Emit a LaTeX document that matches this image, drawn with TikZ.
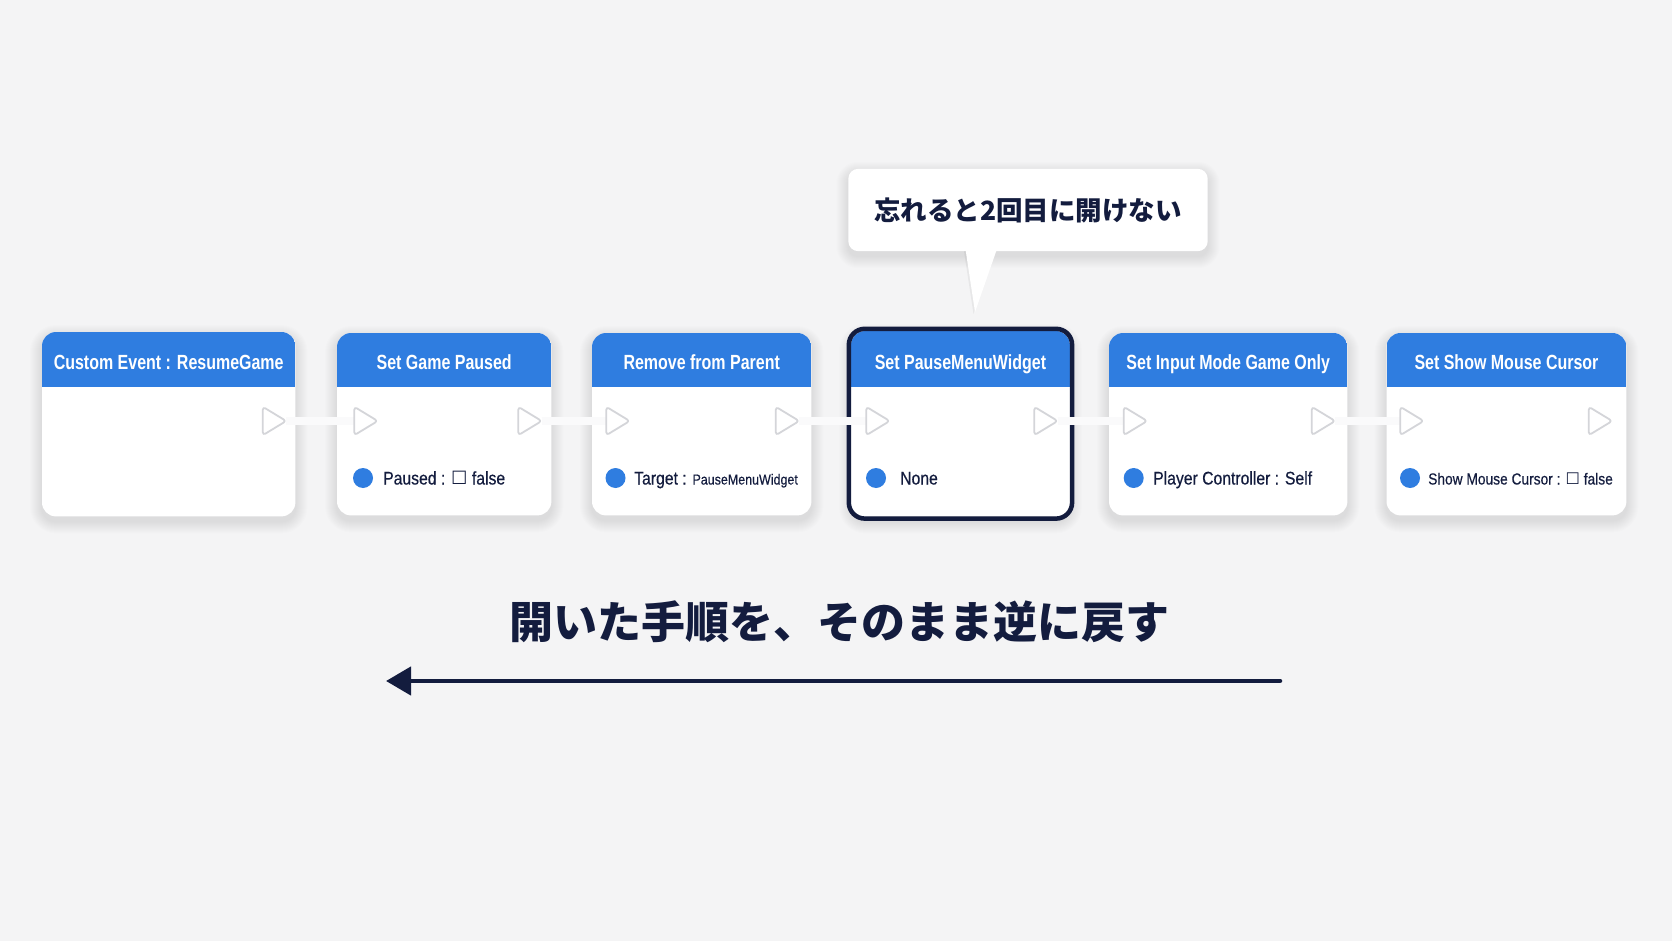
\documentclass[tikz,border=0pt]{standalone}
\usepackage{fontspec}
\setmainfont{Liberation Sans}
\newfontfamily\hfont{Liberation Sans}[FakeStretch=0.78]
\newfontfamily\bfont{Liberation Sans}[FakeStretch=0.86,FakeBold=0.4]
\newfontfamily\dvsym{DejaVu Sans}
\newfontfamily\cjk{Noto Sans CJK JP}
\usetikzlibrary{arrows.meta}
\definecolor{bgc}{HTML}{F4F4F5}
\definecolor{hblue}{HTML}{2F7DE0}
\definecolor{navy}{HTML}{131C3E}
\definecolor{pingray}{HTML}{D4D5D9}
\definecolor{wiregray}{HTML}{FAFAFB}
\tikzset{
 card/.style={rectangle, inner sep=0pt, anchor=north west},
 cardfill/.style={fill=white, rounded corners=14pt},
 shadowlayer/.style={fill=black, opacity=0.009},
 htext/.style={text=white, font=\hfont\bfseries\fontsize{20.5}{24}\selectfont, anchor=base, inner sep=0pt},
 btext/.style={text=navy, font=\bfont\fontsize{18.3}{22}\selectfont, anchor=base west, inner sep=0pt},
 dpin/.style={circle, fill=hblue, minimum size=20pt, inner sep=0pt},
 epin/.style={rectangle, minimum width=23pt, minimum height=28pt, inner sep=0pt},
 epinshape/.style={fill=white, draw=pingray, line width=1.8pt, rounded corners=3pt, line join=round},
 wire/.style={draw=wiregray, line width=8pt},
 callbox/.style={rectangle, inner sep=0pt},
 ctext/.style={text=navy, font=\cjk\bfseries\fontsize{26.5}{30}\selectfont, inner sep=0pt},
 mtext/.style={text=navy, font=\cjk\bfseries\fontsize{44}{50}\selectfont, inner sep=0pt},
 bigarrow/.style={draw=navy, line width=4.5pt, line cap=round, -{Triangle[length=25pt,width=28pt]}},
}
% soft shadow behind a node: #1 node name, #2 corner radius
\newcommand\softshadow[2]{%
 \foreach \r in {1,...,12}{%
  \pgfmathsetmacro\rr{#2+\r}%
  \fill[shadowlayer, rounded corners=\rr pt]
   ([shift={(-\r pt,\r pt-5pt)}]#1.north west) rectangle ([shift={(\r pt,-\r pt-5pt)}]#1.south east);
 }%
}
\newcommand\bpcard[6]{%
 \path node[card, minimum width=#4pt, minimum height=#5pt] (#1) at (#2,#3) {};
 \softshadow{#1}{14}
 \fill[cardfill] (#1.north west) rectangle (#1.south east);
 \begin{scope}
 \clip[rounded corners=14pt] (#1.north west) rectangle (#1.south east);
 \fill[hblue] (#1.north west) rectangle (#1.east |- 0,387);
 \end{scope}
 \node[htext] (#1t) at (#1.north |- 0,369) {#6};
}
\newcommand\execpin[3]{\node[epin] (#1) at (#2,#3) {};}
\newcommand\pintri[1]{\path[epinshape] (#1.north west) -- (#1.east) -- (#1.south west) -- cycle;}
\begin{document}
\begin{tikzpicture}[x=1pt,y=-1pt]
\fill[bgc] (0,0) rectangle (1672,941);
\useasboundingbox (0,0) rectangle (1672,941);

% cards
\bpcard{n1}{42}{332}{253}{184}{Custom Event : ResumeGame}
\bpcard{n2}{337}{333}{214}{182}{Set Game Paused}
\bpcard{n3}{592}{333}{219}{182}{Remove from Parent}
\bpcard{n4}{851}{331}{218.5}{185}{Set PauseMenuWidget}
\bpcard{n5}{1109}{333}{238}{182}{Set Input Mode Game Only}
\bpcard{n6}{1386.5}{333}{239.5}{182}{Set Show Mouse Cursor}
\draw[navy, line width=4.5pt, rounded corners=16pt] ([shift={(-2.2pt,2.2pt)}]n4.north west) rectangle ([shift={(2.2pt,-2.2pt)}]n4.south east);

% exec pins
\execpin{n1o}{274.5}{421}
\execpin{n2i}{366}{421}
\execpin{n2o}{530}{421}
\execpin{n3i}{618}{421}
\execpin{n3o}{787.5}{421}
\execpin{n4i}{878}{421}
\execpin{n4o}{1046}{421}
\execpin{n5i}{1135.5}{421}
\execpin{n5o}{1323.5}{421}
\execpin{n6i}{1412}{421}
\execpin{n6o}{1600.5}{421}

\draw[wire] (n1o.east) -- (n2i.west);
\draw[wire] (n2o.east) -- (n3i.west);
\draw[wire] (n3o.east) -- (n4i.west);
\draw[wire] (n4o.east) -- (n5i.west);
\draw[wire] (n5o.east) -- (n6i.west);

\pintri{n1o}\pintri{n2i}\pintri{n2o}\pintri{n3i}\pintri{n3o}\pintri{n4i}
\pintri{n4o}\pintri{n5i}\pintri{n5o}\pintri{n6i}\pintri{n6o}

% data pins
\node[dpin] (n2d) at (363,478) {};
\node[dpin] (n3d) at (615.5,478) {};
\node[dpin] (n4d) at (876,478) {};
\node[dpin] (n5d) at (1133.7,478) {};
\node[dpin] (n6d) at (1410,478) {};
\node[btext] (n2l) at (383,484.5) {Paused : {\dvsym ☐} false};
\node[btext] (n3l) at (634,484.5) {Target : {\fontsize{14.5}{17}\selectfont PauseMenuWidget}};
\node[btext] (n4l) at (900,484.5) {None};
\node[btext] (n5l) at (1153,484.5) {Player Controller : Self};
\node[btext, font=\bfont\fontsize{16}{19}\selectfont] (n6l) at (1428,484.5) {Show Mouse Cursor : {\dvsym ☐} false};

% callout
\path node[callbox, minimum width=359pt, minimum height=82pt] (cb) at (1028,210) {};
\softshadow{cb}{10}
\fill[black, opacity=0.05] (963.5,248) -- (973.5,314) -- (996.5,248) -- cycle;
\fill[white, rounded corners=10pt] (cb.north west) rectangle (cb.south east);
\fill[white] (965,246) -- (975,312) -- (998,246) -- cycle;
\node[ctext] (ct) at (cb.center) {忘れると2回目に開けない};

% bottom
\node[mtext] (main) at (839,622) {開いた手順を、そのまま逆に戻す};
\coordinate (arrS) at (1280,681);
\coordinate (arrE) at (386,681);
\draw[bigarrow] (arrS) -- (arrE);
\end{tikzpicture}
\end{document}
